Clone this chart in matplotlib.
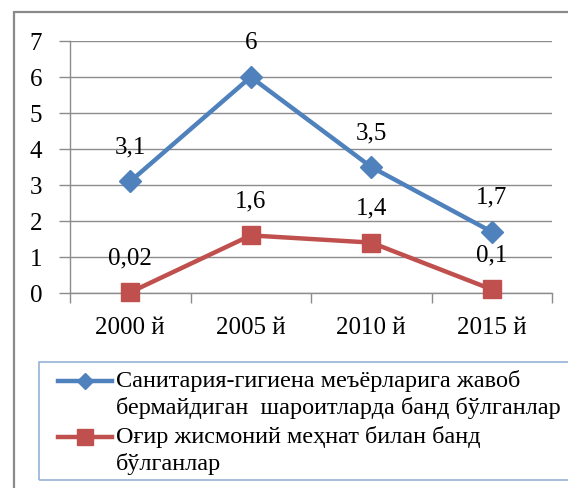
import matplotlib.pyplot as plt
from matplotlib.lines import Line2D
from matplotlib.patches import Rectangle

# ---------- DATA ----------
years = ["2000 й", "2005 й", "2010 й", "2015 й"]
sanitary = [3.1, 6, 3.5, 1.7]
heavy = [0.02, 1.6, 1.4, 0.1]
series_names = [
    "Санитария-гигиена меъёрларига жавоб\nбермайдиган  шароитларда банд бўлганлар",
    "Оғир жисмоний меҳнат билан банд\nбўлганлар",
]

blue = "#4F81BD"
red = "#C0504D"
grid_col = "#8c8c8c"

plt.rcParams["font.family"] = ["Liberation Serif", "DejaVu Serif"]

W, H = 568, 488
fig = plt.figure(figsize=(W / 100, H / 100), dpi=100)

# outer chart frame (cut off at right and bottom)
fig.patches.append(Rectangle((14 / W, -0.1), 1.2, (H - 12) / H + 0.1,
                             transform=fig.transFigure, fill=False,
                             edgecolor="#8a8a8a", linewidth=1.6))

ax = fig.add_axes([70 / W, (H - 293) / H, (552 - 70) / W, (293 - 41) / H])

x = list(range(len(years)))
ax.plot(x, sanitary, color=blue, lw=3.2, marker="D", ms=11, mec=blue, mfc=blue, zorder=3)
ax.plot(x, heavy, color=red, lw=3.2, marker="s", ms=13, mec=red, mfc=red, zorder=3,
        clip_on=False)

for xi, v in zip(x, sanitary):
    ax.annotate(f"{v:g}".replace(".", ","), (xi, v), xytext=(0, 24.5),
                textcoords="offset points", ha="center", va="center", fontsize=18)
for xi, v in zip(x, heavy):
    ax.annotate(f"{v:g}".replace(".", ","), (xi, v), xytext=(0, 24.5),
                textcoords="offset points", ha="center", va="center", fontsize=18)

ax.set_xlim(-0.5, len(years) - 0.5)
ax.set_ylim(0, 7)
ax.set_yticks(range(0, 8))
ax.set_xticks(x)
ax.set_xticklabels(years)
ax.set_xticks([i - 0.5 for i in range(len(years) + 1)], minor=True)
ax.tick_params(axis="x", which="major", length=0, pad=17, labelsize=18)
ax.tick_params(axis="x", which="minor", length=7, color=grid_col, width=1)
ax.tick_params(axis="y", length=8, color=grid_col, width=1, pad=12, labelsize=18)
ax.grid(axis="y", color=grid_col, lw=1)
ax.set_axisbelow(True)
for s in ["top", "right"]:
    ax.spines[s].set_visible(False)
for s in ["left", "bottom"]:
    ax.spines[s].set_color(grid_col)
    ax.spines[s].set_linewidth(1)

# ---------- LEGEND (drawn by hand, handle at first text line) ----------
fig.patches.append(Rectangle((39 / W, (H - 480) / H), 1.0, 118 / H,
                             transform=fig.transFigure, fill=False,
                             edgecolor="#95b3d7", linewidth=1.2))
legend_rows = [(381, blue, "D", 8), (437, red, "s", 11)]
for (yy, col, mk, ms), name in zip(legend_rows, series_names):
    fig.lines.append(Line2D([58 / W, 112 / W], [(H - yy) / H] * 2, transform=fig.transFigure,
                            color=col, lw=3.2))
    fig.lines.append(Line2D([85 / W], [(H - yy) / H], transform=fig.transFigure,
                            color=col, marker=mk, ms=ms, mec=col, mfc=col))
    fig.text(116 / W, (H - yy + 11) / H, name, fontsize=17.5, va="top", ha="left",
             linespacing=1.32)

fig.savefig("out.png", dpi=100, facecolor="white")
